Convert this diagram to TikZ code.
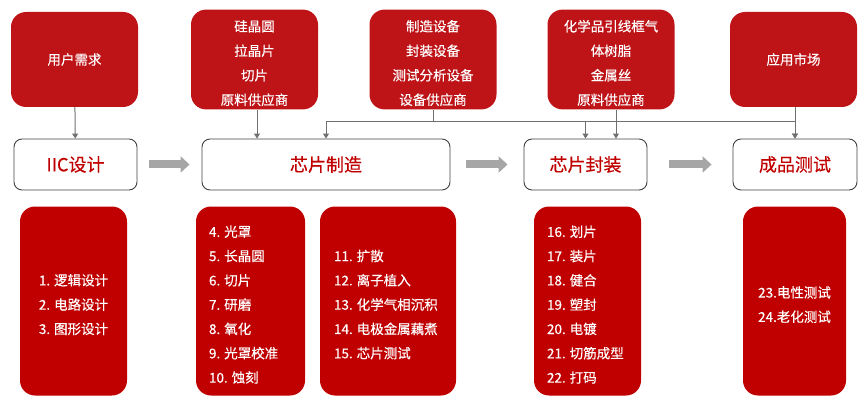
\documentclass[tikz,border=0pt]{standalone}
\usepackage{fontspec}
\setmainfont[FakeBold=0.3]{Noto Sans CJK SC}
\usetikzlibrary{arrows.meta}

\definecolor{topred}{HTML}{BE1418}
\definecolor{listred}{HTML}{C00000}
\definecolor{linegray}{HTML}{707070}
\newcommand\topgap{\rule{0pt}{18.5pt}}
\newcommand\gap{\hspace{4pt}}

\begin{document}
\begin{tikzpicture}[x=1pt, y=-1pt,
    supply/.style={fill=topred, rounded corners=15pt, minimum width=127pt, minimum height=95pt,
        text=white, align=center, font=\fontsize{13.5}{24.5}\selectfont},
    stage/.style={draw=black!75, line width=0.9pt, rounded corners=8pt, minimum height=51pt,
        text=listred, font=\fontsize{18}{20}\selectfont},
    steps/.style={fill=listred, rounded corners=15pt, minimum height=189pt,
        text=white, font=\fontsize{13.5}{24.3}\selectfont},
    conn/.style={linegray, line width=1pt, -{Triangle[length=5pt,width=6pt]}},
    flow/.style={line width=8pt, black!35, -{Triangle[length=9pt,width=16pt]}}]
    \useasboundingbox (0,0) rectangle (865,401);

    % suppliers
    \node[supply] (need) at (74.5,59.5) {用户需求};
    \node[supply] (sup2) at (254.5,59.5) {\topgap{}硅晶圆\\拉晶片\\切片\\原料供应商};
    \node[supply] (sup3) at (433,59.5) {\topgap{}制造设备\\封装设备\\测试分析设备\\设备供应商};
    \node[supply] (sup4) at (611,59.5) {\topgap{}化学品引线框气\\体树脂\\金属丝\\原料供应商};
    \node[supply] (market) at (793.5,59.5) {应用市场};

    % stages
    \node[stage, minimum width=123pt] (iic) at (75.5,164.5) {IIC设计};
    \node[stage, minimum width=248pt] (fab) at (326,164.5) {芯片制造};
    \node[stage, minimum width=123pt] (pkg) at (585.5,164.5) {芯片封装};
    \node[stage, minimum width=124pt] (test) at (795,164.5) {成品测试};

    \draw[flow, shorten <=12pt, shorten >=12pt] (iic) -- (fab);
    \draw[flow, shorten <=16pt, shorten >=16pt] (fab) -- (pkg);
    \draw[flow, shorten <=22pt, shorten >=21pt] (pkg) -- (test);

    % feeds
    \draw[conn] (need) -- (iic);
    \draw[conn] ([xshift=2.5pt]sup2.south) -- ([xshift=2.5pt]sup2.south |- fab.north);
    \coordinate (bus) at (433,122);
    \draw[linegray, line width=1pt] (sup3) -- (bus);
    \draw[conn] (bus) -| (fab.north);
    \draw[conn] (bus) -| (pkg.north);
    \draw[conn] (bus) -| (test.north);
    \draw[conn] ([xshift=5pt]sup4.south) -- ([xshift=5pt]sup4.south |- pkg.north);
    \draw[conn] ([xshift=1.5pt]market.south) -- (test.north);

    % process steps
    \node[steps, minimum width=107pt, align=center] (designsteps) at (73.5,301)
        {\topgap{}1.\gap{}逻辑设计\\2.\gap{}电路设计\\3.\gap{}图形设计};
    \node[steps, text width=83pt, inner xsep=13pt, align=left] (fabsteps1) at (250.5,301)
        {\topgap{}4.\gap{}光罩\\5.\gap{}长晶圆\\6.\gap{}切片\\7.\gap{}研磨\\8.\gap{}氧化\\9.\gap{}光罩校准\\10.\gap{}蚀刻};
    \node[steps, text width=108pt, inner xsep=14pt, align=left] (fabsteps2) at (388,301)
        {\topgap{}11.\gap{}扩散\\12.\gap{}离子植入\\13.\gap{}化学气相沉积\\14.\gap{}电极金属藕煮\\15.\gap{}芯片测试};
    \node[steps, text width=81pt, inner xsep=13pt, align=left] (pkgsteps) at (587.5,301)
        {\topgap{}16.\gap{}划片\\17.\gap{}装片\\18.\gap{}健合\\19.\gap{}塑封\\20.\gap{}电镀\\21.\gap{}切筋成型\\22.\gap{}打码};
    \node[steps, minimum width=103pt, align=center] (teststeps) at (794.5,301)
        {\topgap{}23.电性测试\\24.老化测试};
\end{tikzpicture}
\end{document}
